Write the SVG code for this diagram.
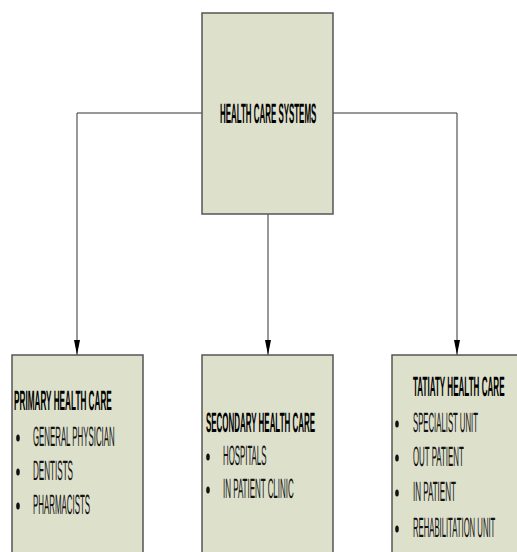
<svg xmlns="http://www.w3.org/2000/svg" width="517" height="552" viewBox="0 0 517 552">
<defs>
<marker id="arr" viewBox="0 0 15 6" refX="15" refY="3" markerWidth="15" markerHeight="6" markerUnits="userSpaceOnUse" orient="auto">
<path d="M0,0 L15,3 L0,6 Z" fill="#000"/>
</marker>
<style>
.box{fill:#DDE0CB;stroke:#555;stroke-width:1.5}
.t{font-family:"Liberation Sans",Arial,sans-serif;font-size:28px;font-weight:bold;fill:#000;text-rendering:geometricPrecision}
.b{font-family:"Liberation Sans",Arial,sans-serif;font-size:28px;fill:#111;text-rendering:geometricPrecision}
.dot{fill:#111}
.c{fill:none;stroke:#333;stroke-width:1}
.n{opacity:0.999}
</style>
</defs>
<rect width="517" height="552" fill="#fff"/>
<g id="connectors">
<path class="c" d="M202,113 H77 V355" marker-end="url(#arr)"/>
<path class="c" d="M333,113 H457 V355" marker-end="url(#arr)"/>
<path class="c" d="M268,214 V355" marker-end="url(#arr)"/>
</g>
<g id="health-care-systems" class="n">
<rect class="box" x="202" y="13" width="131" height="201"/>
<text class="t" transform="translate(220,123) scale(0.283,1)">HEALTH CARE SYSTEMS</text>
</g>
<g id="primary" class="n">
<rect class="box" x="12" y="355" width="131" height="205"/>
<text class="t" transform="translate(14,410) scale(0.293,1)">PRIMARY HEALTH CARE</text>
<ellipse class="dot" cx="18" cy="438" rx="1.8" ry="3.5"/>
<text class="b" transform="translate(33,446) scale(0.28,1)">GENERAL PHYSICIAN</text>
<ellipse class="dot" cx="18" cy="472" rx="1.8" ry="3.5"/>
<text class="b" transform="translate(33,480) scale(0.289,1)">DENTISTS</text>
<ellipse class="dot" cx="18" cy="506" rx="1.8" ry="3.5"/>
<text class="b" transform="translate(33,514) scale(0.282,1)">PHARMACISTS</text>
</g>
<g id="secondary" class="n">
<rect class="box" x="202" y="355" width="131" height="205"/>
<text class="t" transform="translate(206,432) scale(0.284,1)">SECONDARY HEALTH CARE</text>
<ellipse class="dot" cx="208" cy="457" rx="1.8" ry="3.5"/>
<text class="b" transform="translate(223,465) scale(0.28,1)">HOSPITALS</text>
<ellipse class="dot" cx="208" cy="490" rx="1.8" ry="3.5"/>
<text class="b" transform="translate(223,498) scale(0.284,1)">IN PATIENT CLINIC</text>
</g>
<g id="tertiary" class="n">
<rect class="box" x="392" y="355" width="135" height="205"/>
<text class="t" transform="translate(413,396) scale(0.288,1)">TATIATY HEALTH CARE</text>
<ellipse class="dot" cx="397" cy="424" rx="1.8" ry="3.5"/>
<text class="b" transform="translate(413,432) scale(0.277,1)">SPECIALIST UNIT</text>
<ellipse class="dot" cx="397" cy="458" rx="1.8" ry="3.5"/>
<text class="b" transform="translate(413,466) scale(0.281,1)">OUT PATIENT</text>
<ellipse class="dot" cx="397" cy="493" rx="1.8" ry="3.5"/>
<text class="b" transform="translate(413,501) scale(0.286,1)">IN PATIENT</text>
<ellipse class="dot" cx="397" cy="529" rx="1.8" ry="3.5"/>
<text class="b" transform="translate(413,537) scale(0.275,1)">REHABILITATION UNIT</text>
</g>
</svg>
